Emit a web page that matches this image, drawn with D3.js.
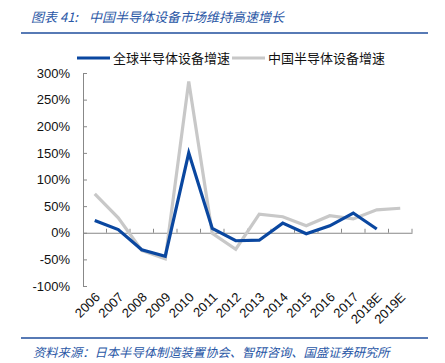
<!DOCTYPE html>
<html>
<head>
<meta charset="utf-8">
<script src="https://cdn.jsdelivr.net/npm/d3@7"></script>
<style>
  body { margin: 0; background: #fff; }
  svg { display: block; font-family: "Liberation Sans", Arial, sans-serif; }
  .cn { font-family: "Noto Sans CJK SC", sans-serif; }
</style>
</head>
<body>
<svg id="chart" width="445" height="363"></svg>
<script>
const years = ['2006', '2007', '2008', '2009', '2010', '2011', '2012', '2013', '2014', '2015', '2016', '2017', '2018E', '2019E']
const globalGrowth = [23, 6, -32, -44, 150, 8, -15, -14, 18, -2, 13, 37, 7, null]
const chinaGrowth = [73, 28, -33, -49, 284, -1, -31, 35, 30, 13, 32, 26, 43, 46]
const yTicks = [-100, -50, 0, 50, 100, 150, 200, 250, 300]
const seriesNames = ['全球半导体设备增速', '中国半导体设备增速']

const svg = d3.select('#chart')
const plotL = 83, plotR = 412, plotT = 73, plotB = 286
const titleBlue = '#2a57a6'

const x = d3.scaleBand().domain(years).range([plotL, plotR])
const y = d3.scaleLinear().domain([-100, 300]).range([plotB, plotT])

// title + rules
svg.append('text').attr('class', 'cn')
  .attr('x', 31).attr('y', 22)
  .attr('fill', titleBlue).attr('font-size', 13).attr('font-style', 'italic')
  .text('图表 41:')
svg.append('text').attr('class', 'cn')
  .attr('x', 89).attr('y', 22)
  .attr('fill', titleBlue).attr('font-size', 13).attr('font-style', 'italic')
  .text('中国半导体设备市场维持高速增长')
svg.append('line').attr('x1', 21).attr('x2', 428).attr('y1', 33).attr('y2', 33)
  .attr('stroke', '#1f4e9c').attr('stroke-width', 1.5)
svg.append('line').attr('x1', 21).attr('x2', 428).attr('y1', 338).attr('y2', 338)
  .attr('stroke', '#1f4e9c').attr('stroke-width', 1.5)
svg.append('text').attr('class', 'cn')
  .attr('x', 33).attr('y', 357)
  .attr('fill', titleBlue).attr('font-size', 12.3).attr('font-style', 'italic')
  .text('资料来源：日本半导体制造装置协会、智研咨询、国盛证券研究所')

// y axis
const yAxis = svg.append('g')
  .attr('transform', `translate(${plotL},0)`)
  .call(d3.axisLeft(y).tickValues(yTicks).tickSizeInner(-4).tickSizeOuter(0).tickPadding(13).tickFormat(d => d + '%'))
yAxis.select('.domain').attr('stroke', '#888')
yAxis.selectAll('.tick line').attr('stroke', '#888')
yAxis.selectAll('.tick text').attr('font-size', 13).attr('fill', '#111')

// x axis at zero
const xAxis = svg.append('g')
  .attr('transform', `translate(0,${y(0)})`)
  .call(d3.axisBottom(x).tickSize(0).tickPadding(0))
xAxis.select('.domain').attr('stroke', '#888')
xAxis.selectAll('.tick text').remove()
const bounds = years.map(d => x(d)).concat([plotR])
xAxis.selectAll('.sep').data(bounds.slice(1)).enter().append('line')
  .attr('x1', d => d).attr('x2', d => d).attr('y1', 0).attr('y2', -4)
  .attr('stroke', '#888')

svg.append('g').selectAll('text').data(years).enter().append('text')
  .attr('transform', d => `translate(${x(d) + x.bandwidth() / 2 + 6},${plotB + 12}) rotate(-45)`)
  .attr('text-anchor', 'end').attr('font-size', 13).attr('fill', '#111')
  .text(d => d)

// lines
const line = d3.line()
  .defined(d => d[1] != null)
  .x(d => x(d[0]) + x.bandwidth() / 2)
  .y(d => y(d[1]))

svg.append('path').datum(years.map((d, i) => [d, chinaGrowth[i]]))
  .attr('d', line).attr('fill', 'none').attr('stroke', '#c8c8c8').attr('stroke-width', 3.2)
svg.append('path').datum(years.map((d, i) => [d, globalGrowth[i]]))
  .attr('d', line).attr('fill', 'none').attr('stroke', '#0a47a0').attr('stroke-width', 3.2)

// legend
const legend = svg.append('g').attr('class', 'cn')
const legendItems = [[77, '#0a47a0'], [232, '#c8c8c8']]
legendItems.forEach((it, i) => {
  legend.append('line').attr('x1', it[0]).attr('x2', it[0] + 33).attr('y1', 58).attr('y2', 58)
    .attr('stroke', it[1]).attr('stroke-width', 3.2)
  legend.append('text').attr('x', it[0] + 36).attr('y', 63)
    .attr('font-size', 13).attr('fill', '#111').text(seriesNames[i])
})
</script>
</body>
</html>
